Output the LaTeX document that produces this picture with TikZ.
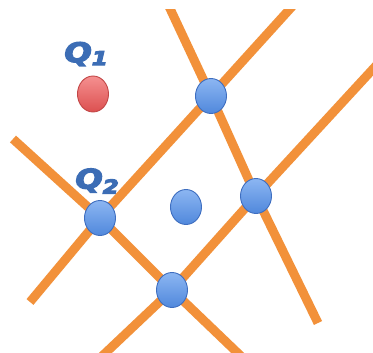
\documentclass[tikz,border=0pt]{standalone}
\usepackage{fontspec}
\setmainfont{DejaVu Sans}
\usetikzlibrary{shapes.geometric}
\definecolor{orangeline}{HTML}{F2913A}
\definecolor{siteTop}{HTML}{8CB6F2}
\definecolor{siteBot}{HTML}{5088DC}
\definecolor{siteRim}{HTML}{3E6EC0}
\definecolor{queryTop}{HTML}{F59090}
\definecolor{queryBot}{HTML}{DC5050}
\definecolor{queryRim}{HTML}{C24646}
\definecolor{labelblue}{HTML}{3C6DB5}
% heavier glyphs: fill and stroke the outlines
\newcommand\heavytext[1]{\special{pdf:literal direct 2 Tr 1.1 w}#1\special{pdf:literal direct 0 Tr}}
\begin{document}
\begin{tikzpicture}[x=1pt,y=-1pt,
  edge/.style={draw=orangeline, line width=9pt, line join=round},
  site/.style={ellipse, minimum width=31pt, minimum height=35pt, inner sep=0pt,
    top color=siteTop, bottom color=siteBot, draw=siteRim, line width=0.9pt},
  query/.style={ellipse, minimum width=31pt, minimum height=36pt, inner sep=0pt,
    top color=queryTop, bottom color=queryBot, draw=queryRim, line width=0.9pt},
  qlabel/.style={text=labelblue, inner sep=0pt, xscale=1.2,
    font=\fontsize{27}{27}\selectfont\bfseries\itshape}]
  \useasboundingbox[fill=white] (0,0) rectangle (373,353);

  % vertices where the lines cross
  \coordinate (p1) at (211,96);
  \coordinate (p2) at (100,218);
  \coordinate (p3) at (172,290);
  \coordinate (p4) at (256,196);

  % free ends of the lines
  \coordinate (a1) at (166,0);
  \coordinate (a2) at (318,323);
  \coordinate (b1) at (298,0);
  \coordinate (b2) at (30,302);
  \coordinate (c1) at (13,139);
  \coordinate (c2) at (245,360);
  \coordinate (d1) at (385,56);
  \coordinate (d2) at (98,360);

  \begin{scope}
    \clip (0,10) rectangle (373,353);
    \draw[edge] (a1) -- (p1) -- (p4) -- (a2);
    \draw[edge] (b1) -- (p1) -- (p2) -- (b2);
    \draw[edge] (c1) -- (p2) -- (p3) -- (c2);
    \draw[edge] (d1) -- (p4) -- (p3) -- (d2);
  \end{scope}

  \node[site] (n1) at (p1) {};
  \node[site] (n2) at (p2) {};
  \node[site] (n3) at (p3) {};
  \node[site] (n4) at (p4) {};
  \node[site] (m) at (186,207) {};
  \node[query] (q) at (93,94) {};

  \node[qlabel] (q1) at (86,54) {\heavytext{Q\raisebox{-3pt}{\fontsize{19}{19}\selectfont 1}}};
  \node[qlabel] (q2) at (97,181) {\heavytext{Q\raisebox{-5pt}{\fontsize{19}{19}\selectfont 2}}};
\end{tikzpicture}
\end{document}
